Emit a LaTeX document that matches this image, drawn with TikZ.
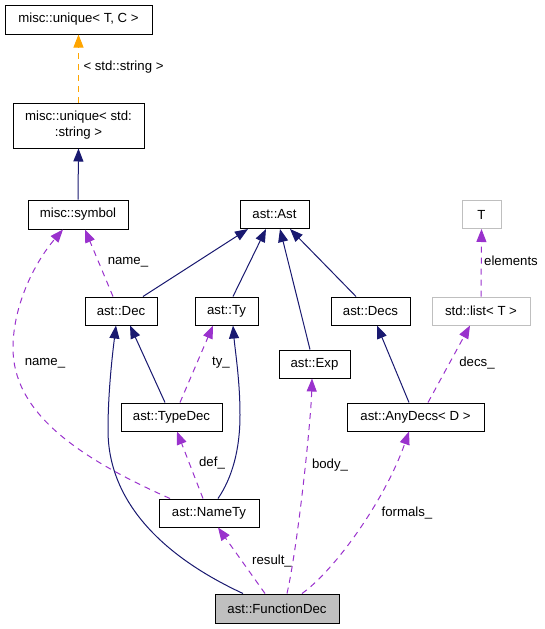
\documentclass[tikz,border=0pt]{standalone}
\usepackage{fontspec}
\setmainfont{Liberation Sans}
\usetikzlibrary{arrows.meta}
\definecolor{navyc}{HTML}{191970}
\definecolor{purp}{HTML}{9A32CD}
\definecolor{orng}{HTML}{FFA500}
\definecolor{grayb}{HTML}{BFBFBF}
\begin{document}
\begin{tikzpicture}[x=1pt,y=-1pt,
  box/.style={draw=black,line width=1pt,minimum height=28pt,inner sep=0pt,font=\fontsize{13.2}{16}\selectfont,align=center},
  gbox/.style={box,draw=grayb},
  lab/.style={font=\fontsize{13.2}{16}\selectfont,inner sep=0pt},
  tip/.style={-{Triangle[length=13pt,width=10pt]}},
  inh/.style={tip,draw=navyc,line width=1pt},
  use/.style={tip,draw=purp,line width=1pt,dash pattern=on 6pt off 5pt},
  tpl/.style={tip,draw=orng,line width=1pt,dash pattern=on 6pt off 5pt}]
\useasboundingbox (0,0) rectangle (544,629);
\node[box,minimum width=147pt,minimum height=29pt] (utc) at (78.5,19.5) {misc::unique\textless{} T, C \textgreater};
\node[box,minimum width=131pt,minimum height=45pt] (us) at (78.5,125.5) {misc::unique\textless{} std:\\:string \textgreater};
\node[box,minimum width=100pt,minimum height=29pt] (sym) at (78,214.5) {misc::symbol};
\node[box,minimum width=69pt] (ast) at (274.5,214.5) {ast::Ast};
\node[gbox,minimum width=39pt] (T) at (481.5,214.5) {T};
\node[box,minimum width=72pt] (dec) at (121,311) {ast::Dec};
\node[box,minimum width=63pt] (ty) at (226.5,311) {ast::Ty};
\node[box,minimum width=79pt] (decs) at (370.5,311) {ast::Decs};
\node[gbox,minimum width=98pt] (list) at (481,311) {std::list\textless{} T \textgreater};
\node[box,minimum width=71pt] (exp) at (314.5,364) {ast::Exp};
\node[box,minimum width=101pt] (tdec) at (171.5,417) {ast::TypeDec};
\node[box,minimum width=137pt] (any) at (415.5,417) {ast::AnyDecs\textless{} D \textgreater};
\node[box,minimum width=100pt] (nty) at (209,513) {ast::NameTy};
\node[box,fill=grayb,minimum width=124pt,minimum height=29pt] (fdec) at (277,608.5) {ast::FunctionDec};
% template
\draw[tpl] (us.north) -- (utc.south);
\node[lab] (l1) at (123.5,67) {\textless{} std::string \textgreater};
% inheritance
\draw[inh] (sym.north) -- (us.south);
\draw[inh] ([xshift=22pt]dec.north) -- ([xshift=-26.5pt]ast.south);
\draw[inh] ([xshift=6.5pt]ty.north) -- ([xshift=-8.5pt]ast.south);
\draw[inh] ([xshift=-4.5pt]exp.north) -- ([xshift=5.5pt]ast.south);
\draw[inh] ([xshift=-14.5pt]decs.north) -- ([xshift=15.5pt]ast.south);
\draw[inh] ([xshift=-6.5pt]tdec.north) -- ([xshift=9pt]dec.south);
\draw[inh] ([xshift=-34pt]fdec.north) .. controls (160,555) and (108,500) .. (108,430) .. controls (108,390) and (113,350) .. ([xshift=-5pt]dec.south);
\draw[inh] ([xshift=9pt]nty.north) .. controls (232,478) and (240,450) .. (240,415) .. controls (240,380) and (235,350) .. ([xshift=6.5pt]ty.south);
\draw[inh] ([xshift=-6.5pt]any.north) -- ([xshift=6.5pt]decs.south);
% usage
\draw[use] ([xshift=8.5pt]tdec.north) -- ([xshift=-13.5pt]ty.south);
\node[lab] (l2) at (221,363) {ty\_};
\draw[use] ([xshift=-6pt]nty.north) -- ([xshift=5.5pt]tdec.south);
\node[lab] (l3) at (212,463) {def\_};
\draw[use] ([xshift=-39pt]nty.north) .. controls (72,455) and (13,410) .. (13,348) .. controls (13,305) and (35,262) .. ([xshift=-15pt]sym.south);
\node[lab] (l4) at (45,363) {name\_};
\draw[use] ([xshift=-8pt]dec.north) -- ([xshift=7pt]sym.south);
\node[lab] (l5) at (128,262) {name\_};
\draw[use] ([xshift=-12pt]fdec.north) -- ([xshift=9pt]nty.south);
\node[lab] (l6) at (272,561) {result\_};
\draw[use] ([xshift=10pt]fdec.north) .. controls (298,545) and (311,420) .. ([xshift=-2.5pt]exp.south);
\node[lab] (l7) at (330,465) {body\_};
\draw[use] ([xshift=25pt]fdec.north) .. controls (335,570) and (385,500) .. ([xshift=-6.5pt]any.south);
\node[lab] (l8) at (407,513) {formals\_};
\draw[use] ([xshift=12.5pt]any.north) -- ([xshift=-11pt]list.south);
\node[lab] (l9) at (477,363) {decs\_};
\draw[use] (list.north) -- (T.south);
\node[lab] (l10) at (511,261) {elements};
\end{tikzpicture}
\end{document}
